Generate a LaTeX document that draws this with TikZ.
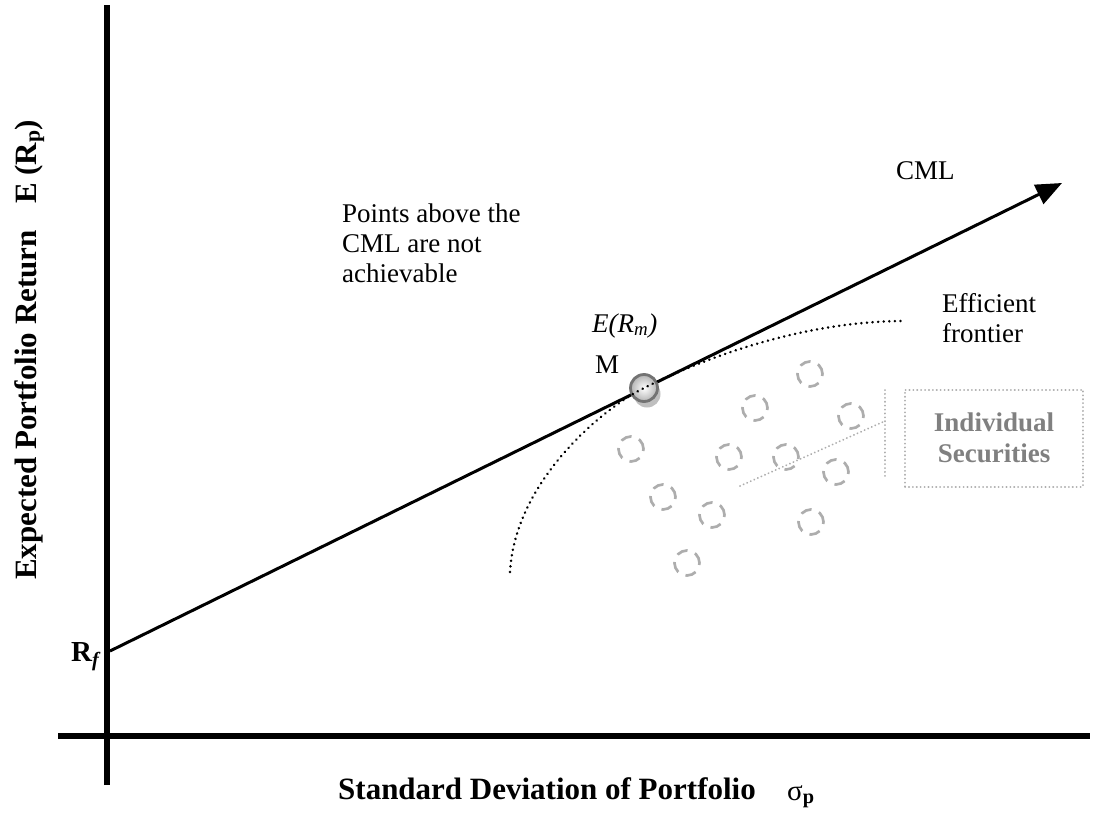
\documentclass[tikz,border=0pt]{standalone}
\usepackage{fontspec}
\setmainfont{Liberation Serif}
\usetikzlibrary{arrows.meta,shadows}
\begin{document}
\begin{tikzpicture}[x=1pt,y=-1pt,
  axis/.style={line width=6.5pt, black},
  cml/.style={line width=3pt, -{Triangle[length=26pt,width=21pt]}},
  frontier/.style={line width=2.7pt, dash pattern=on 0.1pt off 5.5pt, line cap=round},
  sec/.style={circle, draw=black!32, line width=2.7pt, dash pattern=on 11pt off 8pt, minimum size=25pt, inner sep=0pt},
  callout/.style={draw=black!32, line width=2pt, dash pattern=on 0.1pt off 3.8pt, line cap=round},
  lbl/.style={inner sep=0pt, font=\fontsize{27}{30}\selectfont},
  axlbl/.style={inner sep=0pt, font=\fontsize{31}{34}\selectfont\bfseries},
]
\useasboundingbox (0,0) rectangle (1095,814);
% axes
\coordinate (yb) at (107,785); \coordinate (yt) at (107,5);
\coordinate (xl) at (58,736); \coordinate (xr) at (1090,736);
\draw[axis] (yb) -- (yt);
\draw[axis] (xl) -- (xr);
% CML
\coordinate (rf) at (110,651); \coordinate (tip) at (1062,183);
\draw[cml] (rf) -- (tip);
% market portfolio
\node[circle, minimum size=27pt, inner sep=0pt, draw=black!55, line width=2.8pt,
      inner color=white, outer color=black!30,
      drop shadow={shadow xshift=3pt, shadow yshift=-6pt, fill=black!25, opacity=1}] (M) at (644,388) {};
% efficient frontier
\coordinate (ef1) at (510,572); \coordinate (ef2) at (905,321);
\draw[frontier] (ef1) .. controls (515,480) and (605,407) .. (M.center)
                      .. controls (700,360) and (800,321) .. (ef2);
% individual securities
\node[sec] (s1) at (810,374) {};
\node[sec] (s2) at (755,408) {};
\node[sec] (s3) at (851,416) {};
\node[sec] (s4) at (631,449) {};
\node[sec] (s5) at (729,457) {};
\node[sec] (s6) at (786,457) {};
\node[sec] (s7) at (836,472) {};
\node[sec] (s8) at (663,497) {};
\node[sec] (s9) at (712,515) {};
\node[sec] (s10) at (811,522) {};
\node[sec] (s11) at (687,563) {};
% callout
\coordinate (c1) at (740,486); \coordinate (c2) at (885,421);
\coordinate (bt) at (885,390); \coordinate (bb) at (885,479);
\draw[callout] (c1) -- (c2);
\draw[callout] (bt) -- (bb);
\node[callout, minimum width=178pt, minimum height=97pt, align=center, text=black!50,
      inner sep=0pt, font=\fontsize{27}{31}\selectfont\bfseries] (box) at (994,438) {Individual\\Securities};
% labels
\node[lbl, anchor=north west, align=left] (pts) at (342,204) {Points above the\\CML are not\\achievable};
\node[lbl, anchor=base west] (cmllbl) at (896,179) {CML};
\node[lbl, anchor=north west, align=left] (eff) at (942,293) {Efficient\\frontier};
\node[lbl, anchor=base west] (erm) at (592,332) {\itshape E(R\textsubscript{m})};
\node[lbl, anchor=base west] (mlbl) at (595,373) {M};
\node[inner sep=0pt, anchor=base west, font=\fontsize{29}{32}\selectfont\bfseries] (rflbl) at (71,661) {R\textsubscript{\itshape f}};
\node[axlbl, anchor=base west] (xlab) at (338,799) {Standard Deviation of Portfolio};
\node[inner sep=0pt, anchor=base west, font=\fontsize{29}{32}\selectfont] (sig) at (787,800) {σ\textsubscript{\bfseries p}};
\node[inner sep=0pt, rotate=90, anchor=base west, font=\fontsize{31}{34}\selectfont\bfseries] (ylab) at (36,580) {Expected Portfolio Return\hspace{0.6em} E (R\textsubscript{p})};
\end{tikzpicture}
\end{document}
